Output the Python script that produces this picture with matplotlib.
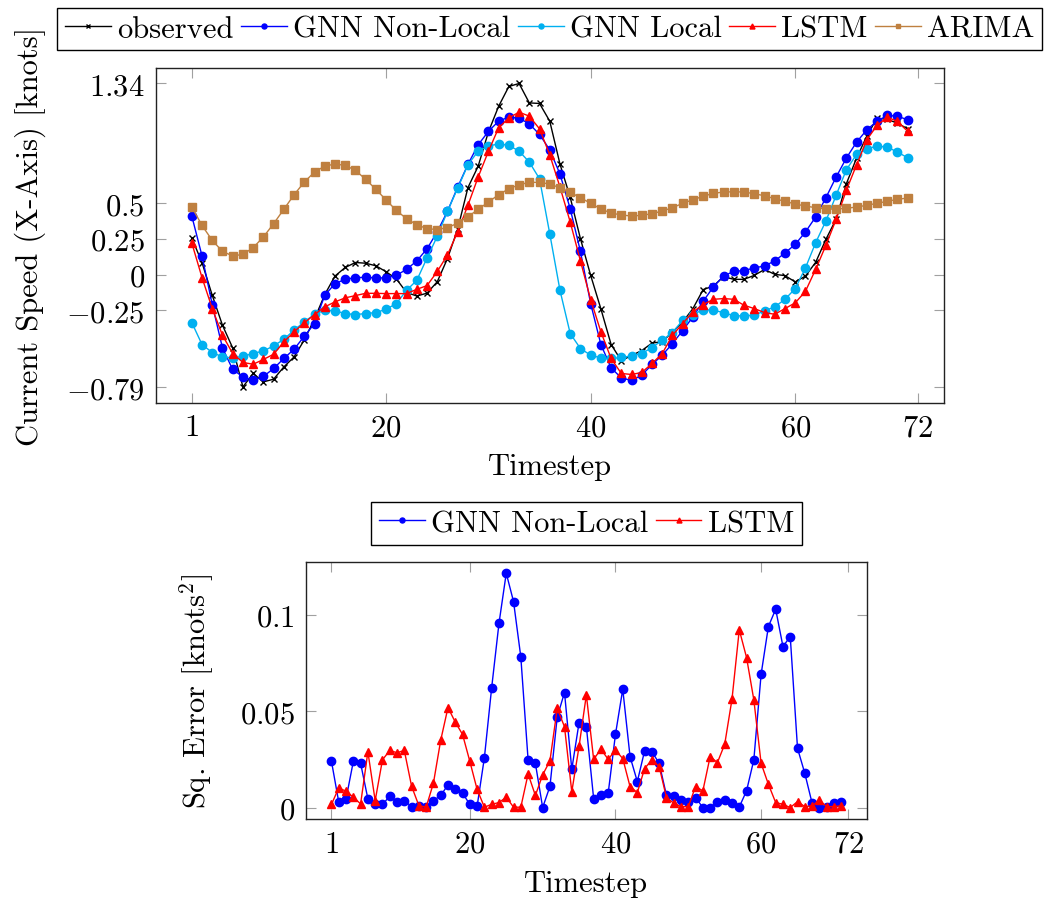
import numpy as np
import matplotlib
matplotlib.use("Agg")
import matplotlib.pyplot as plt

plt.rcParams['font.family'] = ['cmr10', 'DejaVu Serif']
plt.rcParams['mathtext.fontset'] = 'cm'
plt.rcParams['axes.unicode_minus'] = False

timesteps = np.arange(1, 72)

observed = [0.257, 0.084, -0.145, -0.355, -0.514, -0.787, -0.693, -0.752, -0.733, -0.647,
            -0.577, -0.458, -0.310, -0.140, -0.010, 0.050, 0.085, 0.080, 0.062, 0.020,
            -0.030, -0.125, -0.150, -0.130, -0.050, 0.113, 0.320, 0.610, 0.760, 1.000,
            1.180, 1.319, 1.340, 1.204, 1.200, 1.076, 0.775, 0.542, 0.252, -0.005,
            -0.240, -0.490, -0.603, -0.567, -0.532, -0.480, -0.470, -0.403, -0.332, -0.238,
            -0.105, -0.080, -0.014, -0.033, -0.033, -0.005, 0.036, 0.002, -0.007, -0.051,
            -0.010, 0.086, 0.247, 0.389, 0.637, 0.817, 0.971, 1.097, 1.088, 1.062, 1.022]

gnn_nonlocal = [0.411, 0.131, -0.210, -0.514, -0.665, -0.717, -0.742, -0.714, -0.658, -0.588,
                -0.523, -0.432, -0.343, -0.145, -0.063, -0.033, -0.021, -0.019, -0.023, -0.023,
                -0.005, 0.037, 0.096, 0.181, 0.300, 0.444, 0.614, 0.773, 0.910, 1.004,
                1.076, 1.104, 1.097, 1.057, 0.983, 0.875, 0.705, 0.462, 0.163, -0.203,
                -0.490, -0.654, -0.724, -0.742, -0.705, -0.630, -0.565, -0.483, -0.392, -0.296,
                -0.187, -0.086, -0.009, 0.023, 0.028, 0.047, 0.061, 0.096, 0.152, 0.212,
                0.299, 0.404, 0.539, 0.684, 0.817, 0.929, 1.015, 1.076, 1.116, 1.111, 1.085]

gnn_local = [-0.336, -0.490, -0.546, -0.577, -0.584, -0.572, -0.553, -0.535, -0.500, -0.453,
             -0.390, -0.331, -0.278, -0.250, -0.254, -0.273, -0.280, -0.273, -0.266, -0.243,
             -0.203, -0.110, -0.040, 0.117, 0.268, 0.444, 0.607, 0.770, 0.866, 0.901,
             0.917, 0.906, 0.866, 0.789, 0.672, 0.287, -0.110, -0.413, -0.518, -0.565,
             -0.584, -0.588, -0.581, -0.570, -0.553, -0.511, -0.460, -0.406, -0.320, -0.280,
             -0.245, -0.250, -0.266, -0.289, -0.289, -0.285, -0.254, -0.226, -0.173, -0.098,
             0.047, 0.224, 0.376, 0.556, 0.735, 0.843, 0.882, 0.901, 0.894, 0.859, 0.819]

lstm = [0.222, -0.021, -0.238, -0.425, -0.553, -0.616, -0.628, -0.595, -0.558, -0.472,
        -0.401, -0.338, -0.280, -0.226, -0.191, -0.163, -0.147, -0.131, -0.131, -0.133,
        -0.133, -0.133, -0.103, -0.077, 0.022, 0.138, 0.301, 0.486, 0.684, 0.864,
        1.029, 1.099, 1.139, 1.111, 1.022, 0.840, 0.614, 0.369, 0.096, -0.175,
        -0.401, -0.588, -0.693, -0.700, -0.686, -0.623, -0.553, -0.425, -0.343, -0.261,
        -0.210, -0.173, -0.168, -0.173, -0.215, -0.238, -0.266, -0.278, -0.238, -0.198,
        -0.117, 0.037, 0.205, 0.387, 0.591, 0.770, 0.945, 1.046, 1.104, 1.074, 1.004]

arima = [0.474, 0.345, 0.240, 0.163, 0.131, 0.142, 0.189, 0.264, 0.357, 0.458,
         0.560, 0.649, 0.719, 0.761, 0.775, 0.766, 0.731, 0.668, 0.598, 0.523,
         0.450, 0.392, 0.350, 0.322, 0.316, 0.330, 0.360, 0.406, 0.457, 0.509,
         0.560, 0.602, 0.630, 0.647, 0.647, 0.635, 0.609, 0.577, 0.539, 0.500,
         0.460, 0.432, 0.418, 0.411, 0.416, 0.427, 0.446, 0.469, 0.500, 0.525,
         0.549, 0.570, 0.579, 0.581, 0.579, 0.567, 0.553, 0.532, 0.514, 0.495,
         0.481, 0.469, 0.460, 0.460, 0.465, 0.474, 0.486, 0.500, 0.514, 0.528, 0.537]

err_gnn_nonlocal = [0.0240, 0.0028, 0.0045, 0.0240, 0.0230, 0.0045, 0.0019, 0.0016, 0.0059, 0.0028,
                    0.0036, 0.0005, 0.0010, 0.0002, 0.0036, 0.0063, 0.0118, 0.0097, 0.0075, 0.0016,
                    0.0007, 0.0260, 0.0624, 0.0957, 0.1218, 0.1071, 0.0783, 0.0248, 0.0230, 0.0000,
                    0.0110, 0.0471, 0.0598, 0.0199, 0.0442, 0.0421, 0.0047, 0.0064, 0.0075, 0.0381,
                    0.0615, 0.0265, 0.0135, 0.0295, 0.0291, 0.0230, 0.0064, 0.0061, 0.0040, 0.0031,
                    0.0052, 0.0000, 0.0000, 0.0031, 0.0040, 0.0023, 0.0003, 0.0087, 0.0248, 0.0693,
                    0.0941, 0.1031, 0.0837, 0.0889, 0.0308, 0.0178, 0.0023, 0.0000, 0.0005, 0.0023, 0.0031]

err_lstm = [0.0017, 0.0102, 0.0085, 0.0054, 0.0019, 0.0290, 0.0036, 0.0248, 0.0297, 0.0285,
            0.0297, 0.0111, 0.0010, 0.0002, 0.0127, 0.0350, 0.0520, 0.0444, 0.0380, 0.0240,
            0.0094, 0.0002, 0.0017, 0.0026, 0.0054, 0.0002, 0.0002, 0.0175, 0.0063, 0.0170,
            0.0243, 0.0515, 0.0420, 0.0082, 0.0318, 0.0586, 0.0251, 0.0303, 0.0251, 0.0298,
            0.0255, 0.0109, 0.0078, 0.0203, 0.0248, 0.0213, 0.0052, 0.0023, 0.0005, 0.0005,
            0.0109, 0.0087, 0.0265, 0.0234, 0.0329, 0.0563, 0.0924, 0.0780, 0.0560, 0.0230,
            0.0121, 0.0026, 0.0017, 0.0000, 0.0031, 0.0005, 0.0009, 0.0038, 0.0005, 0.0005, 0.0009]

x_ticks = [1, 20, 40, 60, 72]
top_yticks = [-0.79, -0.25, 0, 0.25, 0.5, 1.34]
top_ylabels = [r'$-0.79$', r'$-0.25$', r'$0$', r'$0.25$', r'$0.5$', r'$1.34$']
bot_yticks = [0, 0.05, 0.1]
bot_ylabels = [r'$0$', r'$0.05$', r'$0.1$']

C_BLACK = 'black'
C_BLUE = '#0000ff'
C_CYAN = '#00b0f0'
C_RED = '#ff0000'
C_BROWN = '#bf8040'

FS = 22

fig = plt.figure(figsize=(10.46, 9.04), dpi=100)
ax1 = fig.add_axes([156/1046, 1-403.5/904, (943.5-156)/1046, (403.5-69.3)/904])
ax2 = fig.add_axes([306/1046, 1-820.3/904, (866.7-306)/1046, (820.3-562.5)/904])

lw = 1.0
ax1.plot(timesteps, observed, color=C_BLACK, lw=lw, marker='x', ms=4.5, mew=1.0, label='observed')
ax1.plot(timesteps, gnn_nonlocal, color=C_BLUE, lw=lw, marker='o', ms=6, label='GNN Non-Local')
ax1.plot(timesteps, gnn_local, color=C_CYAN, lw=lw, marker='o', ms=6, label='GNN Local')
ax1.plot(timesteps, lstm, color=C_RED, lw=lw, marker='^', ms=6, label='LSTM')
ax1.plot(timesteps, arima, color=C_BROWN, lw=lw, marker='s', ms=5.8, label='ARIMA')

ax2.plot(timesteps, err_gnn_nonlocal, color=C_BLUE, lw=lw, marker='o', ms=6, label='GNN Non-Local')
ax2.plot(timesteps, err_lstm, color=C_RED, lw=lw, marker='^', ms=6, label='LSTM')

ax1.set_xlim(-2.5, 74.5)
ax1.set_ylim(-0.8965, 1.4465)
ax2.set_xlim(-2.5, 74.5)
ax2.set_ylim(-0.0061, 0.1279)

for ax in (ax1, ax2):
    ax.set_xticks(x_ticks, labels=[r'$%d$' % v for v in x_ticks])
    ax.tick_params(direction='in', length=7.5, width=0.8, color='#a0a0a0',
                   top=True, right=True, labelsize=FS, pad=8, labelcolor='black')
    for s in ax.spines.values():
        s.set_linewidth(1.0)
        s.set_color('#222222')

ax1.set_yticks(top_yticks, labels=top_ylabels)
ax2.set_yticks(bot_yticks, labels=bot_ylabels)

ax1.set_xlabel('Timestep', fontsize=FS)
ax1.xaxis.set_label_coords(0.5, -0.150)
ax1.set_ylabel('Current Speed (X-Axis) [knots]', fontsize=FS)
ax1.yaxis.set_label_coords(-0.140, 0.5)

ax2.set_xlabel('Timestep', fontsize=FS)
ax2.xaxis.set_label_coords(0.5, -0.195)
ax2.set_ylabel(r'Sq. Error [knots$^2$]', fontsize=FS)
ax2.yaxis.set_label_coords(-0.160, 0.5)

leg_kw = dict(loc='lower center', fontsize=FS, frameon=True, fancybox=False,
              edgecolor='black', framealpha=1, borderpad=0.25, handlelength=1.5,
              handletextpad=0.2, columnspacing=0.25, markerscale=0.6, borderaxespad=0)
l1 = ax1.legend(ncol=5, bbox_to_anchor=(0.5, 1 + 18/334), **leg_kw)
l1.get_frame().set_linewidth(1.0)
l2 = ax2.legend(ncol=2, bbox_to_anchor=(0.5, 1 + 16.8/257.8), **leg_kw)
l2.get_frame().set_linewidth(1.0)

fig.savefig('out.png', dpi=100)
